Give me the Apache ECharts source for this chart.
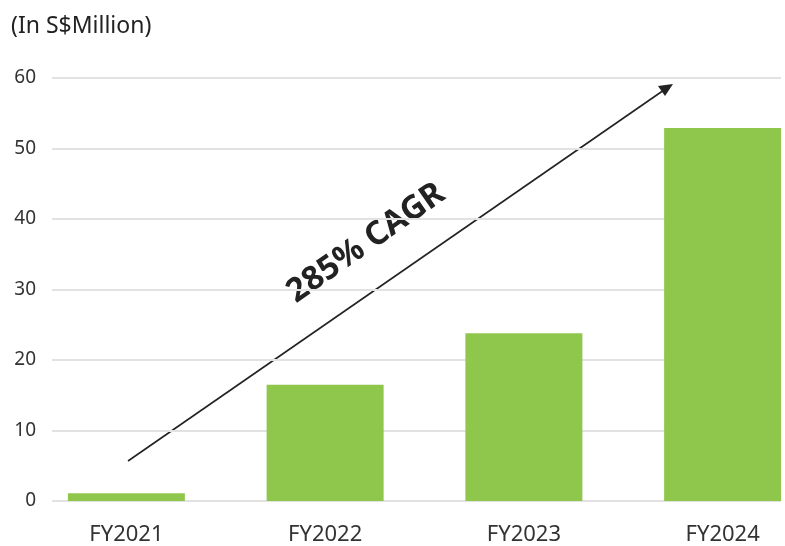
<!DOCTYPE html>
<html>
<head>
<meta charset="utf-8">
<script src="https://cdn.jsdelivr.net/npm/echarts@6/dist/echarts.min.js"></script>
<style>
  html, body { margin: 0; padding: 0; background: #fff; }
  #chart { width: 785px; height: 546px; }
</style>
</head>
<body>
<div id="chart"></div>
<script>
  // 数据
  const years = ['FY2021', 'FY2022', 'FY2023', 'FY2024'];
  const revenue = [1.1, 16.5, 23.8, 52.9];
  const yTicks = [0, 10, 20, 30, 40, 50, 60];
  const unitLabel = '(In S$Million)';
  const cagrLabel = '285% CAGR';

  const font = '"Noto Sans", sans-serif';
  let myChart = echarts.init(document.getElementById('chart'));

  myChart.setOption({
    animation: false,
    title: {
      text: unitLabel,
      left: 6,
      top: 10,
      textStyle: {fontFamily: font, fontSize: 23, fontWeight: 'normal', color: '#222'}
    },
    // grid 0: 网格线和 y 轴, grid 1: 柱子
    grid: [
      {left: 52, right: 4, top: 78, bottom: 45, outerBoundsMode: 'none'},
      {left: 27, right: -37, top: 78, bottom: 45, outerBoundsMode: 'none'}
    ],
    xAxis: [
      {gridIndex: 0, type: 'category', data: years, show: false},
      {
        gridIndex: 1,
        type: 'category',
        data: years,
        axisLine: {show: false},
        axisTick: {show: false},
        axisLabel: {margin: 23, fontFamily: font, fontSize: 22, color: '#333'}
      }
    ],
    yAxis: [
      {
        gridIndex: 0,
        type: 'value',
        min: yTicks[0],
        max: yTicks[yTicks.length - 1],
        interval: 10,
        axisLine: {show: false},
        axisTick: {show: false},
        axisLabel: {margin: 16, fontFamily: font, fontSize: 19, color: '#333'},
        splitLine: {lineStyle: {color: '#e2e2e2', width: 2}}
      },
      {
        gridIndex: 1,
        type: 'value',
        min: yTicks[0],
        max: yTicks[yTicks.length - 1],
        show: false
      }
    ],
    series: [
      {
        type: 'bar',
        xAxisIndex: 1,
        yAxisIndex: 1,
        data: revenue,
        barWidth: 117,
        itemStyle: {color: '#8fc74c'}
      }
    ],
    graphic: [
      {
        type: 'line',
        shape: {x1: 128, y1: 461, x2: 664, y2: 90},
        style: {stroke: '#222', lineWidth: 1.6}
      },
      {
        type: 'polygon',
        shape: {points: [[673, 84], [658, 86], [665, 96]]},
        style: {fill: '#222'}
      },
      {
        type: 'text',
        x: 366,
        y: 243,
        rotation: 35 * Math.PI / 180,
        style: {
          text: cagrLabel,
          fontFamily: font,
          fontSize: 33,
          fontWeight: 'bold',
          fill: '#222',
          align: 'center',
          verticalAlign: 'middle'
        }
      }
    ]
  });
</script>
</body>
</html>
